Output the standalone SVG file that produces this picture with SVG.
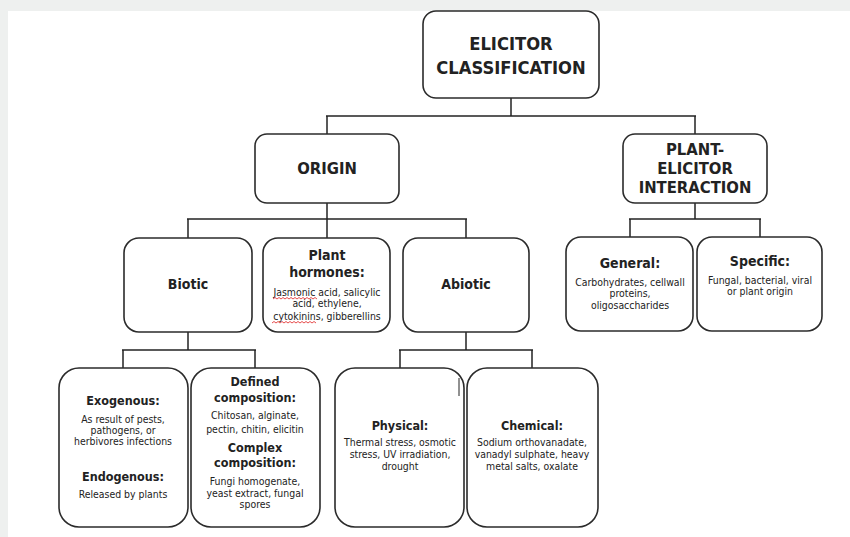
<svg xmlns="http://www.w3.org/2000/svg" width="850" height="537" viewBox="0 0 850 537">
<style>
text{font-family:"DejaVu Sans Condensed","DejaVu Sans",sans-serif;font-stretch:condensed;fill:#222;text-anchor:middle}
.box{fill:#fff;stroke:#2b2b2b;stroke-width:1.6}
.t1{font-size:18.2px;font-weight:bold}
.t2{font-size:16.5px;font-weight:bold}
.h{font-size:14px;font-weight:bold}
.h2{font-size:12.5px;font-weight:bold}
.s{font-size:10.4px}
.conn line{stroke:#222;stroke-width:1.5}
.wavy{fill:none;stroke:#e02020;stroke-width:0.8}
</style>
<rect x="0" y="0" width="850" height="537" fill="#eef0ef"/>
<rect x="8" y="11" width="842" height="526" fill="#fff"/>
<g class="conn" id="connectors">
<line x1="511" y1="98" x2="511" y2="116"/>
<line x1="326" y1="116" x2="696" y2="116"/>
<line x1="327" y1="116" x2="327" y2="134"/>
<line x1="695" y1="116" x2="695" y2="134"/>
<line x1="327" y1="203" x2="327" y2="238"/>
<line x1="187" y1="219" x2="467" y2="219"/>
<line x1="188" y1="219" x2="188" y2="238"/>
<line x1="466" y1="219" x2="466" y2="238"/>
<line x1="695" y1="203" x2="695" y2="219"/>
<line x1="629" y1="219" x2="761" y2="219"/>
<line x1="630" y1="219" x2="630" y2="237"/>
<line x1="760" y1="219" x2="760" y2="237"/>
<line x1="188" y1="332" x2="188" y2="350"/>
<line x1="122" y1="350" x2="256" y2="350"/>
<line x1="123" y1="350" x2="123" y2="368"/>
<line x1="255" y1="350" x2="255" y2="368"/>
<line x1="466" y1="332" x2="466" y2="350"/>
<line x1="399" y1="350" x2="533" y2="350"/>
<line x1="400" y1="350" x2="400" y2="368"/>
<line x1="532" y1="350" x2="532" y2="368"/>
</g>
<g id="root">
<rect class="box" x="423" y="11" width="176" height="87" rx="13"/>
<text class="t1" x="511" y="50">ELICITOR</text>
<text class="t1" x="511" y="74">CLASSIFICATION</text>
</g>
<g id="origin">
<rect class="box" x="255" y="134" width="144" height="69" rx="12"/>
<text class="t2" x="327" y="174">ORIGIN</text>
</g>
<g id="interaction">
<rect class="box" x="623" y="134" width="144" height="69" rx="12"/>
<text class="t2" x="695" y="155">PLANT-</text>
<text class="t2" x="695" y="174">ELICITOR</text>
<text class="t2" x="695" y="193">INTERACTION</text>
</g>
<g id="biotic">
<rect class="box" x="124" y="238" width="128" height="94" rx="15"/>
<text class="h" x="188" y="289">Biotic</text>
</g>
<g id="hormones">
<rect class="box" x="263" y="238" width="127" height="94" rx="15"/>
<text class="h" x="327" y="260">Plant</text>
<text class="h" x="327" y="277">hormones:</text>
<text class="s" x="327" y="296">Jasmonic acid, salicylic</text>
<text class="s" x="327" y="307">acid, ethylene,</text>
<text class="s" x="327" y="320">cytokinins, gibberellins</text>
<polyline class="wavy" points="273,299 275,297.5 277,299 279,297.5 281,299 283,297.5 285,299 287,297.5 289,299 291,297.5 293,299 295,297.5 297,299 299,297.5 301,299 303,297.5 305,299 307,297.5 309,299 311,297.5 313,299 315,297.5 317,299"/>
<polyline class="wavy" points="272,323 274,321.5 276,323 278,321.5 280,323 282,321.5 284,323 286,321.5 288,323 290,321.5 292,323 294,321.5 296,323 298,321.5 300,323 302,321.5 304,323 306,321.5 308,323 310,321.5 312,323 314,321.5 316,323"/>
</g>
<g id="abiotic">
<rect class="box" x="403" y="238" width="126" height="94" rx="15"/>
<text class="h" x="466" y="289">Abiotic</text>
</g>
<g id="general">
<rect class="box" x="566" y="237" width="127" height="94" rx="15"/>
<text class="h" x="630" y="268">General:</text>
<text class="s" x="630" y="286">Carbohydrates, cellwall</text>
<text class="s" x="630" y="297">proteins,</text>
<text class="s" x="630" y="309">oligosaccharides</text>
</g>
<g id="specific">
<rect class="box" x="697" y="237" width="125" height="94" rx="15"/>
<text class="h" x="760" y="266">Specific:</text>
<text class="s" x="760" y="284">Fungal, bacterial, viral</text>
<text class="s" x="760" y="295">or plant origin</text>
</g>
<g id="exogenous">
<rect class="box" x="59" y="368" width="129" height="159" rx="20"/>
<text class="h2" x="123" y="405">Exogenous:</text>
<text class="s" x="123" y="423">As result of pests,</text>
<text class="s" x="123" y="434">pathogens, or</text>
<text class="s" x="123" y="445">herbivores infections</text>
<text class="h2" x="123" y="481">Endogenous:</text>
<text class="s" x="123" y="498">Released by plants</text>
</g>
<g id="defined">
<rect class="box" x="191" y="368" width="129" height="159" rx="20"/>
<text class="h2" x="255" y="386">Defined</text>
<text class="h2" x="255" y="402">composition:</text>
<text class="s" x="255" y="419">Chitosan, alginate,</text>
<text class="s" x="255" y="433">pectin, chitin, elicitin</text>
<text class="h2" x="255" y="452">Complex</text>
<text class="h2" x="255" y="467">composition:</text>
<text class="s" x="255" y="485">Fungi homogenate,</text>
<text class="s" x="255" y="497">yeast extract, fungal</text>
<text class="s" x="255" y="508">spores</text>
</g>
<g id="physical">
<rect class="box" x="335" y="368" width="129" height="159" rx="20"/>
<line x1="459" y1="378" x2="459" y2="396" stroke="#222" stroke-width="1"/>
<text class="h2" x="400" y="430">Physical:</text>
<text class="s" x="400" y="446">Thermal stress, osmotic</text>
<text class="s" x="400" y="458">stress, UV irradiation,</text>
<text class="s" x="400" y="470">drought</text>
</g>
<g id="chemical">
<rect class="box" x="467" y="368" width="131" height="159" rx="20"/>
<text class="h2" x="532" y="430">Chemical:</text>
<text class="s" x="532" y="446">Sodium orthovanadate,</text>
<text class="s" x="532" y="458">vanadyl sulphate, heavy</text>
<text class="s" x="532" y="470">metal salts, oxalate</text>
</g>
</svg>
